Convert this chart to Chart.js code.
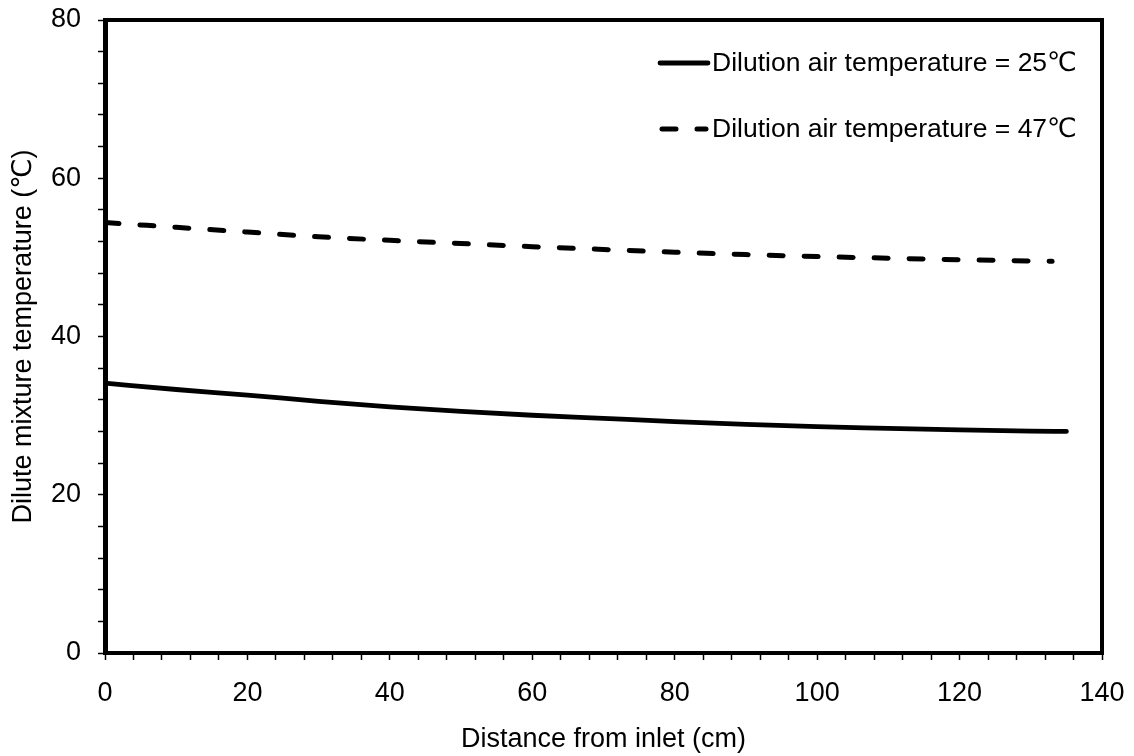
<!DOCTYPE html>
<html>
<head>
<meta charset="utf-8">
<script src="https://cdn.jsdelivr.net/npm/chart.js@4.4.1/dist/chart.umd.min.js"></script>
<style>
  html, body { margin: 0; padding: 0; background: #ffffff; }
  #wrap { width: 1134px; height: 756px; }
</style>
</head>
<body>
<div id="wrap"><canvas id="c" width="1134" height="756"></canvas></div>
<script>
// ---- data ----
const seriesLabels = ['Dilution air temperature = 25\u2103', 'Dilution air temperature = 47\u2103'];
const dist25 = [0, 10, 20, 30, 40, 50, 60, 70, 80, 90, 100, 110, 120, 130, 135];
const temp25 = [34.1, 33.3, 32.6, 31.8, 31.1, 30.55, 30.05, 29.65, 29.25, 28.9, 28.6, 28.4, 28.2, 28.05, 28.0];
const dist47 = [0, 10, 20, 30, 40, 50, 60, 70, 80, 90, 100, 110, 120, 130, 133];
const temp47 = [54.4, 53.8, 53.2, 52.6, 52.15, 51.75, 51.35, 51.0, 50.65, 50.35, 50.1, 49.9, 49.7, 49.55, 49.5];
const xTitle = 'Distance from inlet (cm)';
const yTitle = 'Dilute mixture temperature (\u2103)';
const xRange = [0, 140];
const yRange = [0, 80];
const majorStep = 20;
const minorStep = 4;

const FONT = '"Liberation Sans", Arial, "DejaVu Sans", sans-serif';
const FS = 27;
const LEGEND_FS = 26.5;

const toPts = (xs, ys) => xs.map((x, i) => ({ x: x, y: ys[i] }));

const framePlugin = {
  id: 'frame',
  afterDatasetsDraw(chart) {
    const { ctx, chartArea: a } = chart;
    ctx.save();
    ctx.strokeStyle = '#000';
    ctx.lineWidth = 4;
    ctx.setLineDash([]);
    ctx.strokeRect(a.left, a.top, a.right - a.left, a.bottom - a.top);
    ctx.restore();
  }
};

const legendPlugin = {
  id: 'customLegend',
  afterDraw(chart) {
    const { ctx } = chart;
    const rows = [63, 129];
    const lineX0 = 660, lineX1 = 708, textX = 712;
    ctx.save();
    chart.data.datasets.forEach((ds, i) => {
      const y = rows[i];
      ctx.beginPath();
      ctx.strokeStyle = ds.borderColor;
      ctx.lineWidth = ds.borderWidth;
      ctx.lineCap = ds.borderCapStyle || 'butt';
      ctx.setLineDash(ds.borderDash || []);
      ctx.moveTo(lineX0 + (ds.borderDash ? 2 : 0), y);
      ctx.lineTo(lineX1 - (ds.borderDash ? 2 : 0), y);
      ctx.stroke();
      ctx.setLineDash([]);
      ctx.fillStyle = '#000';
      ctx.font = LEGEND_FS + 'px ' + FONT;
      ctx.textBaseline = 'middle';
      ctx.textAlign = 'left';
      ctx.fillText(ds.label, textX, y + 1);
    });
    ctx.restore();
  }
};

new Chart(document.getElementById('c'), {
  type: 'line',
  data: {
    datasets: [
      {
        label: seriesLabels[0],
        data: toPts(dist25, temp25),
        borderColor: '#000000',
        backgroundColor: '#000000',
        borderWidth: 4.8,
        borderCapStyle: 'round',
        pointRadius: 0,
        fill: false,
        cubicInterpolationMode: 'monotone'
      },
      {
        label: seriesLabels[1],
        data: toPts(dist47, temp47),
        borderColor: '#000000',
        backgroundColor: '#000000',
        borderWidth: 5,
        borderDash: [14, 21],
        borderCapStyle: 'round',
        pointRadius: 0,
        fill: false,
        cubicInterpolationMode: 'monotone'
      }
    ]
  },
  options: {
    responsive: false,
    animation: false,
    devicePixelRatio: 1,
    layout: { padding: { top: 20, right: 32, left: 0, bottom: 0 } },
    plugins: {
      legend: { display: false },
      tooltip: { enabled: false }
    },
    scales: {
      x: {
        type: 'linear',
        min: xRange[0],
        max: xRange[1],
        afterFit(scale) {
          scale.height = 103;
          scale.paddingLeft = 0;
          scale.paddingRight = 0;
        },
        ticks: {
          stepSize: minorStep,
          autoSkip: false,
          maxRotation: 0,
          padding: 17,
          color: '#000',
          font: { family: FONT, size: FS },
          callback: (v) => (v % majorStep === 0 ? String(v) : '')
        },
        grid: {
          display: true,
          drawOnChartArea: false,
          drawTicks: true,
          tickLength: 7,
          tickWidth: 1.5,
          tickColor: '#000'
        },
        border: { display: true, color: '#000', width: 4 },
        title: {
          display: true,
          text: xTitle,
          color: '#000',
          font: { family: FONT, size: FS },
          padding: { top: 0, bottom: 0 }
        }
      },
      y: {
        type: 'linear',
        min: yRange[0],
        max: yRange[1],
        afterFit(scale) {
          scale.width = 105;
          scale.paddingTop = 0;
          scale.paddingBottom = 0;
        },
        ticks: {
          stepSize: minorStep,
          autoSkip: false,
          padding: 17,
          color: '#000',
          font: { family: FONT, size: FS },
          callback: (v) => (v % majorStep === 0 ? String(v) : '')
        },
        grid: {
          display: true,
          drawOnChartArea: false,
          drawTicks: true,
          tickLength: 7,
          tickWidth: 1.5,
          tickColor: '#000'
        },
        border: { display: true, color: '#000', width: 5 },
        title: {
          display: true,
          text: yTitle,
          color: '#000',
          font: { family: FONT, size: FS },
          padding: { top: 7, bottom: 0 }
        }
      }
    }
  },
  plugins: [framePlugin, legendPlugin]
});
</script>
</body>
</html>
